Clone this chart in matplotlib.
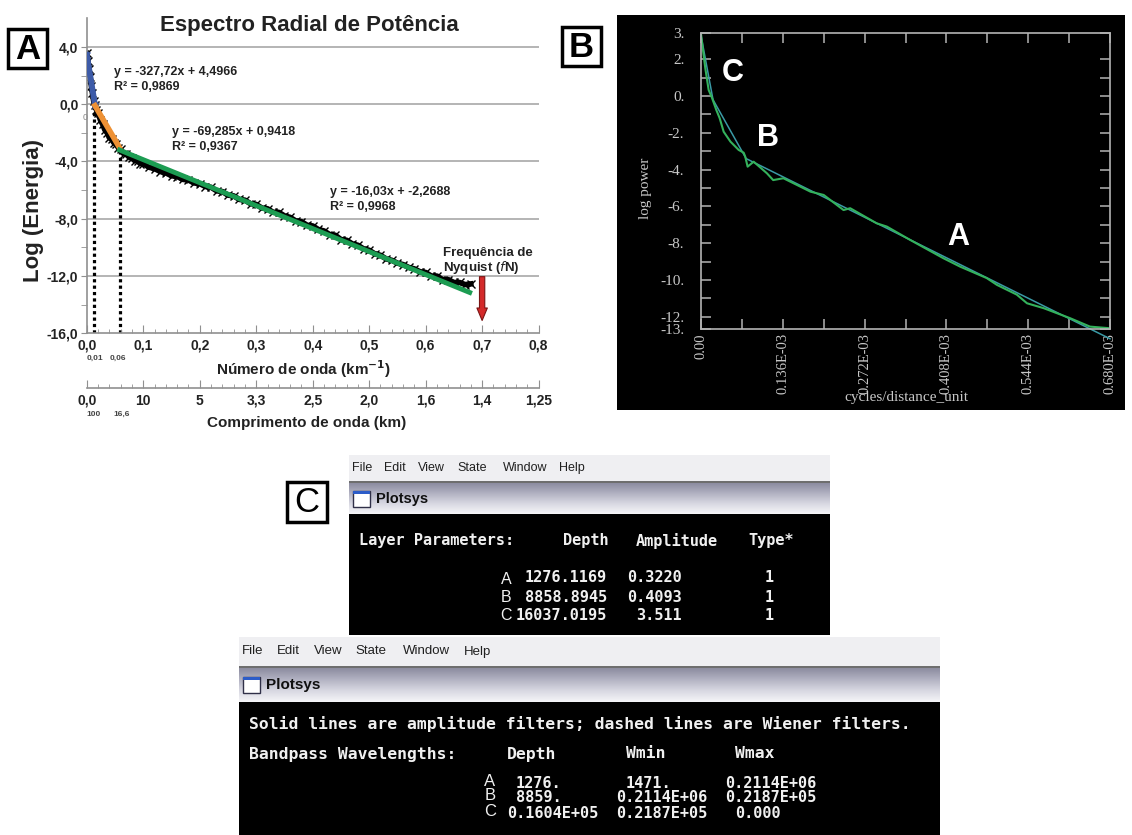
import numpy as np
import matplotlib
matplotlib.use('Agg')
import matplotlib.pyplot as plt
from matplotlib.patches import Rectangle
from matplotlib.colors import LinearSegmentedColormap

W, H = 1132, 835

#%% dados - painel A (espectro radial)
k_A = [0.000, 0.002, 0.004, 0.006, 0.008, 0.010, 0.012, 0.014, 0.017, 0.020,
       0.024, 0.028, 0.032, 0.036, 0.040, 0.044, 0.048, 0.052, 0.056, 0.060,
       0.065, 0.070, 0.075, 0.080, 0.085, 0.090, 0.095, 0.100, 0.110, 0.120,
       0.130, 0.140, 0.150, 0.160, 0.170, 0.180, 0.190, 0.200, 0.210, 0.220,
       0.230, 0.240, 0.250, 0.260, 0.270, 0.280, 0.290, 0.300, 0.310, 0.320,
       0.330, 0.340, 0.350, 0.360, 0.370, 0.380, 0.390, 0.400, 0.410, 0.420,
       0.430, 0.440, 0.450, 0.460, 0.470, 0.480, 0.490, 0.500, 0.510, 0.520,
       0.530, 0.540, 0.550, 0.560, 0.570, 0.580, 0.590, 0.600, 0.610, 0.620,
       0.630, 0.640, 0.650, 0.660, 0.670, 0.680]
logE_A = [3.55, 3.00, 2.45, 1.90, 1.30, 0.75, 0.25, -0.05, -0.40, -0.60,
          -1.10, -1.40, -1.80, -2.00, -2.35, -2.45, -2.70, -2.80, -3.05, -3.15,
          -3.45, -3.50, -3.70, -3.75, -3.95, -3.95, -4.15, -4.15, -4.40, -4.50,
          -4.70, -4.80, -5.00, -5.05, -5.25, -5.30, -5.50, -5.55, -5.75, -5.80,
          -6.05, -6.10, -6.35, -6.40, -6.65, -6.70, -6.95, -7.00, -7.25, -7.30,
          -7.55, -7.55, -7.80, -7.90, -8.15, -8.20, -8.45, -8.50, -8.75, -8.85,
          -9.10, -9.15, -9.45, -9.50, -9.75, -9.85, -10.10, -10.20, -10.45, -10.55,
          -10.80, -10.90, -11.10, -11.20, -11.40, -11.50, -11.70, -11.75, -12.00, -12.00,
          -12.25, -12.25, -12.45, -12.45, -12.60, -12.55]

blue_k, blue_y = [0.0, 0.0145], [3.45, -0.05]
orange_k, orange_y = [0.0145, 0.0575], [-0.10, -3.00]
green_k, green_y = [0.058, 0.678], [-3.20, -13.15]
cut_k, cut_top = [0.013, 0.058], [0.0, -3.1]

wn_ticks = [0.0, 0.1, 0.2, 0.3, 0.4, 0.5, 0.6, 0.7, 0.8]
wn_labels = ['0,0', '0,1', '0,2', '0,3', '0,4', '0,5', '0,6', '0,7', '0,8']
wl_labels = ['0,0', '10', '5', '3,3', '2,5', '2,0', '1,6', '1,4', '1,25']
yA_ticks = [4, 0, -4, -8, -12, -16]
yA_labels = ['4,0', '0,0', '-4,0', '-8,0', '-12,0', '-16,0']

eq1 = ['y = -327,72x + 4,4966', 'R² = 0,9869']
eq2 = ['y = -69,285x + 0,9418', 'R² = 0,9367']
eq3 = ['y = -16,03x + -2,2688', 'R² = 0,9968']

#%% dados - painel B (log power)
f_B = [0.000, 0.0033, 0.0072, 0.0127, 0.018, 0.0255, 0.031, 0.0377, 0.049, 0.0626,
       0.071, 0.0736, 0.0775, 0.0875, 0.1096, 0.120, 0.137, 0.182, 0.204, 0.237,
       0.248, 0.292, 0.309, 0.348, 0.403, 0.431, 0.475, 0.492, 0.525, 0.542,
       0.570, 0.6135, 0.6467, 0.680]
p_B = [3.40, 2.50, 1.50, 0.33, -0.07, -0.76, -1.20, -1.94, -2.48, -2.93,
       -3.08, -3.30, -3.84, -3.57, -4.20, -4.57, -4.47, -5.20, -5.38, -6.20,
       -6.10, -6.92, -7.10, -7.83, -8.82, -9.28, -9.90, -10.27, -10.80, -11.27,
       -11.54, -12.08, -12.54, -12.63]
fit_f = [0.000, 0.020, 0.075, 0.680]
fit_p = [3.30, -0.20, -3.40, -13.20]
xB_ticks = [0.0, 0.136, 0.272, 0.408, 0.544, 0.680]
xB_labels = ['0.00', '0.136E-03', '0.272E-03', '0.408E-03', '0.544E-03', '0.680E-03']
yB_ticks = [3.43, 2, 0, -2, -4, -6, -8, -10, -12, -12.67]
yB_labels = ['3.', '2.', '0.', '-2.', '-4.', '-6.', '-8.', '-10.', '-12.', '-13.']

#%% dados - painel C (telas do Plotsys)
layer_names = ['A', 'B', 'C']
layer_depth = ['1276.1169', '8858.8945', '16037.0195']
layer_amp = ['0.3220', '0.4093', '3.511']
layer_type = ['1', '1', '1']
band_depth = ['1276.', '8859.', '0.1604E+05']
band_wmin = ['1471.', '0.2114E+06', '0.2187E+05']
band_wmax = ['0.2114E+06', '0.2187E+05', '0.000']
menu = ['File', 'Edit', 'View', 'State', 'Window', 'Help']

#%%
plt.rcParams['font.family'] = ['Liberation Sans', 'DejaVu Sans']
fig = plt.figure(figsize=(W/100, H/100), dpi=100)

def pbox(x0, y0, x1, y1):
    return [x0/W, 1-y1/H, (x1-x0)/W, (y1-y0)/H]

bg = fig.add_axes([0, 0, 1, 1])
bg.set_axis_off()

def rect(x0, y0, x1, y1, **kw):
    bg.add_patch(Rectangle((x0, y0), x1-x0, y1-y0, **kw))

def gradient(x0, y0, x1, y1, cols):
    cm = LinearSegmentedColormap.from_list('g', cols)
    bg.imshow(np.linspace(0, 1, 64).reshape(-1, 1), extent=[x0, x1, y1, y0],
              cmap=cm, aspect='auto', interpolation='bilinear', zorder=1)

def tag(x0, y0, x1, y1, letter, weight='bold'):
    rect(x0, y0, x1, y1, fc='white', ec='black', lw=2.5, zorder=5)
    bg.text((x0+x1)/2, (y0+y1)/2+1, letter, ha='center', va='center',
            fontsize=25, fontweight=weight, zorder=6)

#%% painel A
axA = fig.add_axes(pbox(86.8, 18.3, 538.6, 333.3))
axA.patch.set_alpha(0)
axA.set_xlim(0, 0.8)
axA.set_ylim(-16, 6)
for s in ['top', 'right']:
    axA.spines[s].set_visible(False)
for s in ['left', 'bottom']:
    axA.spines[s].set_color('#909090')
    axA.spines[s].set_linewidth(1.2)
for yv in [4, 0, -4, -8, -12]:
    axA.axhline(yv, color='#a8a8a8', lw=1.2, zorder=0)

axA.set_yticks(yA_ticks, yA_labels, fontsize=10, fontweight='bold', color='#222222')
axA.set_yticks([2, -2, -6, -10, -14], minor=True)
axA.set_xticks(wn_ticks, wn_labels, fontsize=10, fontweight='bold', color='#222222')
axA.set_xticks(np.arange(0, 0.81, 0.02), minor=True)
axA.tick_params(axis='y', which='both', direction='out', length=4, color='#909090', pad=2)
axA.tick_params(axis='x', which='major', direction='in', length=6, color='#909090', pad=4)
axA.tick_params(axis='x', which='minor', direction='in', length=3, color='#909090')

axA.plot(k_A, logE_A, '-', color='black', lw=4.0, zorder=2)
axA.plot(k_A, logE_A, 'x', color='black', ms=5.5, mew=1.0, zorder=2)
axA.plot(blue_k, blue_y, 'x-', color='#3d5ba8', lw=4.2, ms=5, zorder=3)
axA.plot(orange_k, orange_y, '-', color='#ee9134', lw=4.0, zorder=3)
axA.plot(green_k, green_y, '-', color='#1c9c52', lw=3.5, zorder=3)
for kk, tt in zip(cut_k, cut_top):
    axA.plot([kk, kk], [-16, tt], color='black', lw=2.3, ls=(0, (1, 1)), zorder=1)

axA.annotate('', xy=(0.7, -15.3), xytext=(0.7, -11.85),
             arrowprops=dict(arrowstyle='simple,head_width=0.75,head_length=0.9,tail_width=0.38',
                             fc='#d42a2a', ec='#7a1414', lw=0.8))

# eixo secundario (comprimento de onda)
axW = fig.add_axes(pbox(86.8, 370, 538.6, 388))
axW.patch.set_alpha(0)
axW.set_xlim(0, 0.8)
for s in ['top', 'right', 'left']:
    axW.spines[s].set_visible(False)
axW.spines['bottom'].set_color('#909090')
axW.spines['bottom'].set_linewidth(1.2)
axW.set_yticks([])
axW.set_xticks(wn_ticks, wl_labels, fontsize=10, fontweight='bold', color='#222222')
axW.set_xticks(np.arange(0, 0.81, 0.02), minor=True)
axW.tick_params(axis='x', which='major', direction='in', length=6, color='#909090', pad=4)
axW.tick_params(axis='x', which='minor', direction='in', length=3, color='#909090')

bg.text(309, 25, 'Espectro Radial de Potência', ha='center', va='center',
        fontsize=16, fontweight='bold', color='#222222')
bg.text(34, 211, 'Log (Energia)', ha='center', va='center', rotation=90,
        fontsize=16, fontweight='bold', color='#222222')
for (x, y), eq in zip([(113.5, 72.5), (171.5, 132), (330.5, 192)], [eq1, eq2, eq3]):
    bg.text(x, y, eq[0], ha='left', va='center', fontsize=9, fontweight='bold', color='#222222')
    bg.text(x, y+15, eq[1], ha='left', va='center', fontsize=9, fontweight='bold', color='#222222')
bg.text(443, 253, 'Frequência de', ha='left', va='center', fontsize=9.5,
        fontweight='bold', color='#222222')
bg.text(443, 268, r'Nyquist ($\mathbf{\mathit{f}}$N)', ha='left', va='center', fontsize=9.5,
        fontweight='bold', color='#222222')
bg.text(85, 118, '0', ha='center', va='center', fontsize=6.5, color='#888888')
bg.text(95, 358, '0,01', ha='center', va='center', fontsize=6, fontweight='bold', color='#444444')
bg.text(118, 358, '0,06', ha='center', va='center', fontsize=6, fontweight='bold', color='#444444')
bg.text(93.5, 414, '100', ha='center', va='center', fontsize=6, fontweight='bold', color='#444444')
bg.text(121.5, 414, '16,6', ha='center', va='center', fontsize=6, fontweight='bold', color='#444444')
bg.text(304, 369, 'Número de onda (km$^{\\mathbf{-1}}$)', ha='center', va='center',
        fontsize=11, fontweight='bold', color='#222222')
bg.text(307, 423, 'Comprimento de onda (km)', ha='center', va='center',
        fontsize=11, fontweight='bold', color='#222222')
tag(8, 29, 47, 68, 'A')

#%% painel B
rect(617, 15, 1125, 410, fc='black', ec='none', zorder=1)
axB = fig.add_axes(pbox(701, 33, 1110, 329))
axB.patch.set_alpha(0)
axB.set_xlim(0, 0.68)
axB.set_ylim(-12.67, 3.43)
for s in axB.spines.values():
    s.set_color('#b4b4b4')
    s.set_linewidth(1.2)
serif = ['Liberation Serif', 'DejaVu Serif']
axB.set_xticks(xB_ticks, xB_labels, rotation=90, fontsize=10.5, family=serif, color='#c8c8c8')
axB.set_xticks([0.068, 0.204, 0.34, 0.476, 0.612], minor=True)
axB.set_yticks(yB_ticks, yB_labels, fontsize=11, family=serif, color='#c8c8c8')
axB.set_yticks(np.arange(-11, 2, 2), minor=True)
axB.tick_params(which='both', direction='in', length=7, top=True, right=True,
                color='#b4b4b4', width=1.1)
axB.tick_params(axis='x', pad=3)
axB.tick_params(axis='y', pad=12)
axB.plot(fit_f, fit_p, '-', color='#3a9aa6', lw=1.1, clip_on=False)
axB.plot(f_B, p_B, '-', color='#34b25c', lw=1.5)
bg.text(906, 397, 'cycles/distance_unit', ha='center', va='center', fontsize=11,
        family=serif, color='#c8c8c8')
bg.text(645, 188, 'log power', ha='center', va='center', rotation=90, fontsize=11,
        family=serif, color='#c8c8c8')
for (x, y), lt in zip([(733, 73), (768, 138), (958, 237)], ['C', 'B', 'A']):
    bg.text(x, y, lt, ha='center', va='center', fontsize=22, fontweight='bold',
            color='white', zorder=4)
tag(562, 27, 601, 66, 'B')

#%% painel C
mono = ['DejaVu Sans Mono']
term = '#f0f0f0'

def window(x0, x1, ytop, ymenu, ytitle, yblack, ybot, xs_menu, fs_menu, fs_title):
    rect(x0, ytop, x1, ymenu, fc='#efeff2', ec='none', zorder=1)
    rect(x0, ymenu, x1, ymenu+2, fc='#6e6e6e', ec='none', zorder=2)
    gradient(x0, ymenu+2, x1, yblack, ['#8c8ca0', '#b2b2c2', '#d8d8e2', '#f5f5f8'])
    rect(x0, yblack, x1, ybot, fc='black', ec='none', zorder=2)
    for xm, m in zip(xs_menu, menu):
        bg.text(xm, (ytop+ymenu)/2, m, ha='left', va='center', fontsize=fs_menu,
                color='#202020', zorder=3)
    yt = (ymenu+2+yblack)/2
    rect(x0+4, yt-8, x0+21, yt+8, fc='white', ec='#303048', lw=1, zorder=3)
    rect(x0+4, yt-8, x0+21, yt-5, fc='#2c5cc8', ec='none', zorder=4)
    bg.text(x0+27, yt, 'Plotsys', ha='left', va='center', fontsize=fs_title,
            fontweight='bold', color='#101010', zorder=3)

window(349, 830, 455, 481, 483, 514, 635, [352, 384, 418, 457, 503, 559], 9, 10.5)
window(239, 940, 637, 666, 668, 702, 835, [242, 277, 314, 355, 403, 464], 9.5, 11)

bg.text(359, 541, 'Layer Parameters:', ha='left', va='center', fontsize=11,
        family=mono, fontweight='bold', color=term, zorder=3)
bg.text(585.5, 541, 'Depth', ha='center', va='center', fontsize=11, family=mono,
        fontweight='bold', color=term, zorder=3)
bg.text(677, 541, 'Amplitude', ha='center', va='center', fontsize=11, family=mono,
        fontweight='bold', color=term, zorder=3)
bg.text(771, 541, 'Type*', ha='center', va='center', fontsize=11, family=mono,
        fontweight='bold', color=term, zorder=3)
for i, y in enumerate([578, 597, 615]):
    bg.text(506, y+1, layer_names[i], ha='center', va='center', fontsize=11.5,
            color=term, zorder=3)
    bg.text(607, y, layer_depth[i], ha='right', va='center', fontsize=11, family=mono,
            fontweight='bold', color=term, zorder=3)
    bg.text(682, y, layer_amp[i], ha='right', va='center', fontsize=11, family=mono,
            fontweight='bold', color=term, zorder=3)
    bg.text(769, y, layer_type[i], ha='center', va='center', fontsize=11, family=mono,
            fontweight='bold', color=term, zorder=3)

bg.text(249, 724, 'Solid lines are amplitude filters; dashed lines are Wiener filters.',
        ha='left', va='center', fontsize=11.8, family=mono, fontweight='bold', color=term, zorder=3)
bg.text(249, 754, 'Bandpass Wavelengths:', ha='left', va='center', fontsize=11.8,
        family=mono, fontweight='bold', color=term, zorder=3)
for x, t in zip([532, 646, 755], ['Depth', 'Wmin', 'Wmax']):
    bg.text(x, 754, t, ha='center', va='center', fontsize=11.8, family=mono,
            fontweight='bold', color=term, zorder=3)
for i, y in enumerate([783, 798, 813]):
    bg.text(490, y-2, layer_names[i], ha='center', va='center', fontsize=12,
            color=term, zorder=3)
    x_dep = 507 if len(band_depth[i]) > 6 else 516
    bg.text(x_dep, y, band_depth[i], ha='left', va='center', fontsize=11, family=mono,
            fontweight='bold', color=term, zorder=3)
    x_min = 616 if len(band_wmin[i]) > 6 else 626
    bg.text(x_min, y, band_wmin[i], ha='left', va='center', fontsize=11, family=mono,
            fontweight='bold', color=term, zorder=3)
    x_max = 725 if len(band_wmax[i]) > 6 else 735
    bg.text(x_max, y, band_wmax[i], ha='left', va='center', fontsize=11, family=mono,
            fontweight='bold', color=term, zorder=3)

tag(287, 482, 327, 522, 'C', weight='normal')

bg.set_xlim(0, W)
bg.set_ylim(H, 0)
fig.savefig('out.png', dpi=100)
